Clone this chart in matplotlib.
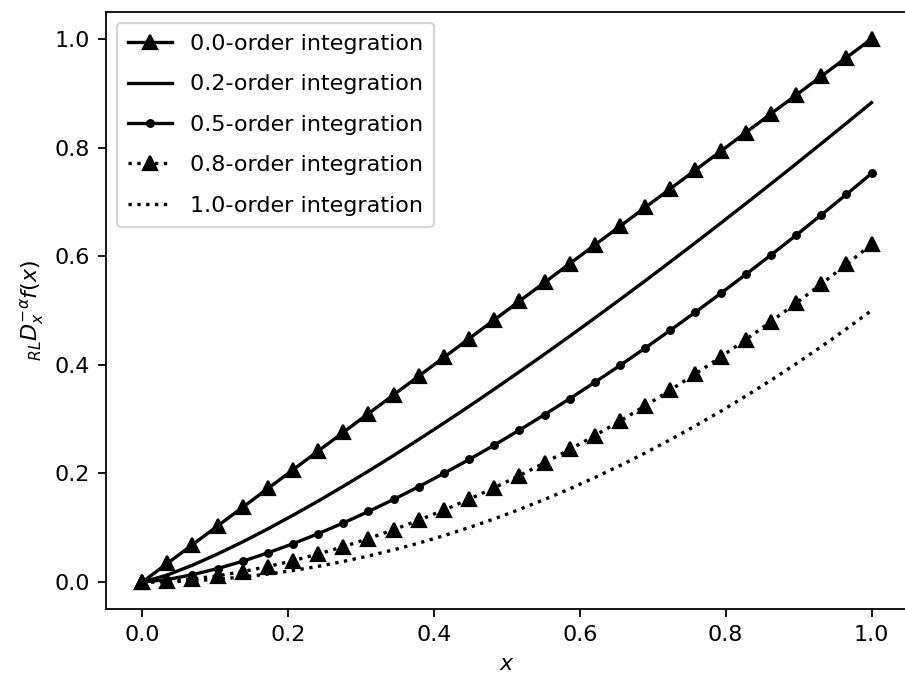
import matplotlib
matplotlib.use("Agg")
import matplotlib.pyplot as plt

# grid points (30 samples on [0, 1])
x = [0.0, 0.0345, 0.0690, 0.1034, 0.1379, 0.1724, 0.2069, 0.2414, 0.2759, 0.3103,
     0.3448, 0.3793, 0.4138, 0.4483, 0.4828, 0.5172, 0.5517, 0.5862, 0.6207, 0.6552,
     0.6897, 0.7241, 0.7586, 0.7931, 0.8276, 0.8621, 0.8966, 0.9310, 0.9655, 1.0]

# values
y_00 = [0.0, 0.0345, 0.0690, 0.1034, 0.1379, 0.1724, 0.2069, 0.2414, 0.2759, 0.3103,
        0.3448, 0.3793, 0.4138, 0.4483, 0.4828, 0.5172, 0.5517, 0.5862, 0.6207, 0.6552,
        0.6897, 0.7241, 0.7586, 0.7931, 0.8276, 0.8621, 0.8966, 0.9310, 0.9655, 1.0]
y_02 = [0.0, 0.0131, 0.0312, 0.0518, 0.0742, 0.0981, 0.1232, 0.1493, 0.1765, 0.2044,
        0.2332, 0.2627, 0.2929, 0.3237, 0.3552, 0.3872, 0.4197, 0.4527, 0.4863, 0.5203,
        0.5547, 0.5896, 0.6249, 0.6606, 0.6967, 0.7332, 0.7700, 0.8072, 0.8447, 0.8826]
y_05 = [0.0, 0.0048, 0.0136, 0.0250, 0.0385, 0.0539, 0.0708, 0.0892, 0.1090, 0.1301,
        0.1523, 0.1758, 0.2003, 0.2258, 0.2523, 0.2799, 0.3083, 0.3377, 0.3679, 0.3990,
        0.4309, 0.4636, 0.4971, 0.5314, 0.5664, 0.6022, 0.6386, 0.6758, 0.7137, 0.7523]
y_08 = [0.0, 0.0017, 0.0058, 0.0117, 0.0194, 0.0287, 0.0395, 0.0517, 0.0653, 0.0802,
        0.0965, 0.1140, 0.1327, 0.1527, 0.1738, 0.1961, 0.2196, 0.2442, 0.2698, 0.2966,
        0.3245, 0.3534, 0.3834, 0.4144, 0.4464, 0.4795, 0.5136, 0.5486, 0.5847, 0.6217]
y_10 = [0.0, 0.0006, 0.0024, 0.0054, 0.0095, 0.0149, 0.0214, 0.0291, 0.0381, 0.0482,
        0.0595, 0.0719, 0.0856, 0.1005, 0.1165, 0.1338, 0.1522, 0.1718, 0.1926, 0.2146,
        0.2378, 0.2622, 0.2878, 0.3145, 0.3424, 0.3716, 0.4019, 0.4334, 0.4661, 0.5]

DPI = 160
fig = plt.figure(figsize=(905 / DPI, 677 / DPI), dpi=DPI)
ax = fig.add_axes([0.1168, 0.1, 0.8865, 0.8827])

ax.plot(x, y_00, 'k-^', label='0.0-order integration')
ax.plot(x, y_02, 'k-', label='0.2-order integration')
ax.plot(x, y_05, 'k.-', label='0.5-order integration')
ax.plot(x, y_08, 'k:^', label='0.8-order integration')
ax.plot(x, y_10, 'k:', label='1.0-order integration')

ax.set_xlim(-0.05, 1.05)
ax.set_ylim(-0.05, 1.05)
ax.set_xlabel('$x$')
ax.set_ylabel(r'$_{RL}D_x^{-\alpha}f(x)$')
ax.legend(loc='upper left', labelspacing=0.92, borderpad=0.5)

fig.savefig('out.png', dpi=DPI)
